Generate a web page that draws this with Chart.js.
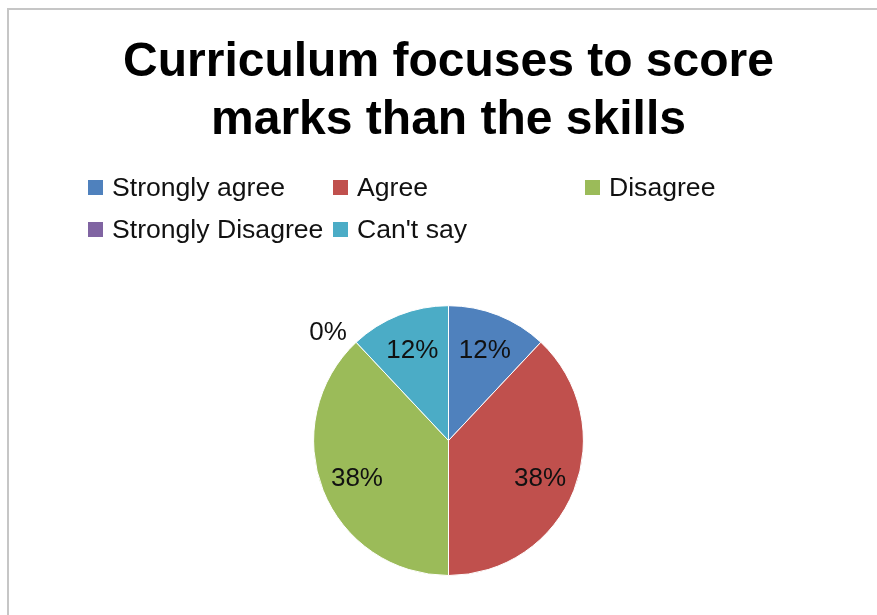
<!DOCTYPE html>
<html>
<head>
<meta charset="utf-8">
<script src="https://cdn.jsdelivr.net/npm/chart.js@4.4.1/dist/chart.umd.min.js"></script>
<style>
  html, body { margin: 0; padding: 0; background: #fff; }
  body { width: 877px; height: 615px; position: relative; overflow: hidden; font-family: "Liberation Sans", Arial, sans-serif; }
  #frame { position: absolute; left: 7px; top: 8px; width: 880px; height: 620px; border-left: 2px solid #c6c6c6; border-top: 2px solid #c6c6c6; box-sizing: border-box; }
  #c { position: absolute; left: 0; top: 0; }
  #legend { position: absolute; left: 88px; top: 173px; display: grid; grid-template-columns: 245px 252px 220px; row-gap: 13px; font-size: 26.6px; color: #111; }
  .item { display: flex; align-items: center; height: 29px; white-space: nowrap; }
  .box { width: 15px; height: 15px; margin-right: 9px; flex: none; }
</style>
</head>
<body>
<div id="frame"></div>
<canvas id="c" width="877" height="615"></canvas>
<div id="legend"></div>
<script>
const titleLines = ['Curriculum focuses to score', 'marks than the skills'];
const categories = ['Strongly agree', 'Agree', 'Disagree', 'Strongly Disagree', "Can't say"];
const percentages = [12, 38, 38, 0, 12];
const colors = ['#4F81BD', '#C0504D', '#9BBB59', '#8064A2', '#4BACC6'];

const labelPlugin = {
  id: 'sliceLabels',
  afterDatasetsDraw(chart) {
    const ctx = chart.ctx;
    const meta = chart.getDatasetMeta(0);
    const data = chart.data.datasets[0].data;
    ctx.save();
    ctx.font = '26px "Liberation Sans", Arial, sans-serif';
    ctx.fillStyle = '#111';
    ctx.textBaseline = 'middle';
    meta.data.forEach((arc, i) => {
      const p = arc.getProps(['x', 'y', 'startAngle', 'endAngle', 'outerRadius'], true);
      const mid = (p.startAngle + p.endAngle) / 2;
      const inside = data[i] > 0;
      const r = inside ? p.outerRadius * 0.73 : p.outerRadius * 1.1;
      if (inside) ctx.textAlign = 'center';
      else ctx.textAlign = Math.cos(mid) < 0 ? 'right' : 'left';
      ctx.fillText(data[i] + '%', p.x + Math.cos(mid) * r, p.y + Math.sin(mid) * r + (inside ? 2 : 0));
    });
    ctx.restore();
  }
};

const chart = new Chart(document.getElementById('c'), {
  type: 'pie',
  data: {
    labels: categories,
    datasets: [{
      data: percentages,
      backgroundColor: colors,
      borderColor: '#ffffff',
      borderWidth: 1
    }]
  },
  options: {
    responsive: false,
    animation: false,
    devicePixelRatio: 1,
    layout: { padding: { left: 20, right: 0, top: 0, bottom: 39 } },
    plugins: {
      legend: { display: false },
      tooltip: { enabled: false },
      title: {
        display: true,
        text: titleLines,
        color: '#000',
        font: { family: '"Liberation Sans", Arial, sans-serif', size: 48, weight: 'bold', lineHeight: 1.2 },
        padding: { top: 34, bottom: 156 }
      }
    }
  },
  plugins: [labelPlugin]
});

const legend = document.getElementById('legend');
categories.forEach((name, i) => {
  const item = document.createElement('div');
  item.className = 'item';
  const box = document.createElement('span');
  box.className = 'box';
  box.style.background = colors[i];
  const txt = document.createElement('span');
  txt.textContent = name;
  item.appendChild(box);
  item.appendChild(txt);
  legend.appendChild(item);
});
</script>
</body>
</html>
